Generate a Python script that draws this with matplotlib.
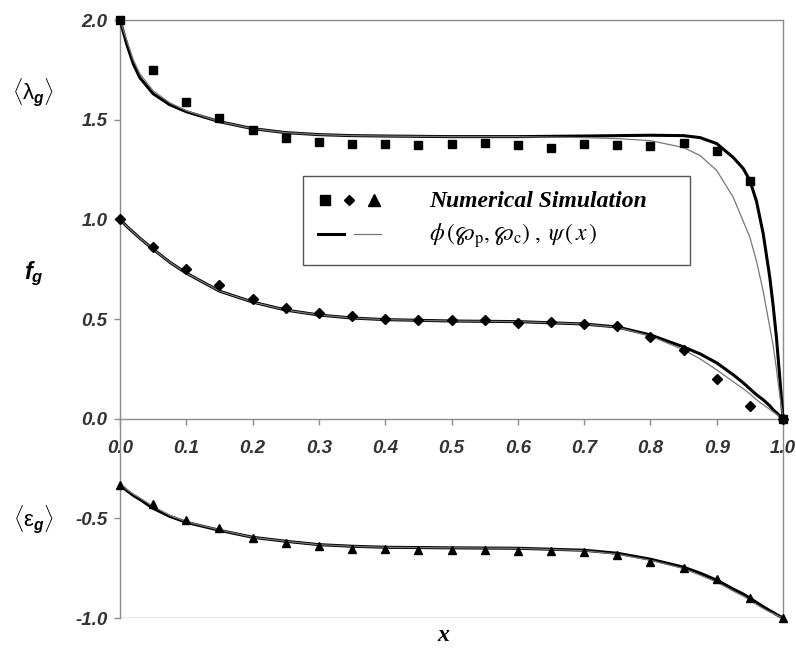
import matplotlib
matplotlib.use('Agg')
import matplotlib.pyplot as plt
from matplotlib.lines import Line2D
from matplotlib.legend_handler import HandlerTuple

plt.rcParams['axes.unicode_minus'] = False
plt.rcParams['mathtext.fontset'] = 'custom'
plt.rcParams['mathtext.rm'] = 'Liberation Sans'
plt.rcParams['mathtext.it'] = 'Liberation Sans:italic:bold'
plt.rcParams['mathtext.bf'] = 'Liberation Sans:bold'

# simulation points
x_sim = [0.0, 0.05, 0.1, 0.15, 0.2, 0.25, 0.3, 0.35, 0.4, 0.45, 0.5,
         0.55, 0.6, 0.65, 0.7, 0.75, 0.8, 0.85, 0.9, 0.95, 1.0]
lam_sim = [2.0, 1.75, 1.59, 1.51, 1.45, 1.41, 1.39, 1.38, 1.38, 1.375, 1.38,
           1.385, 1.375, 1.357, 1.378, 1.375, 1.37, 1.383, 1.343, 1.19, 0.0]
f_sim = [1.0, 0.86, 0.75, 0.67, 0.6, 0.555, 0.53, 0.515, 0.5, 0.495, 0.497,
         0.497, 0.48, 0.485, 0.475, 0.465, 0.41, 0.345, 0.2, 0.065, 0.0]
eps_sim = [-0.333, -0.43, -0.51, -0.55, -0.6, -0.625, -0.64, -0.655, -0.655, -0.66, -0.66,
           -0.66, -0.665, -0.665, -0.67, -0.685, -0.72, -0.75, -0.805, -0.9, -1.0]

# model curves: thick = phi(p_p, p_c), thin = psi(x)
x_crv = [0.0, 0.01, 0.02, 0.03, 0.05, 0.075, 0.1, 0.15, 0.2, 0.25, 0.3, 0.35, 0.4,
         0.5, 0.6, 0.7, 0.75, 0.8, 0.85, 0.875, 0.9, 0.925, 0.94, 0.95, 0.96, 0.97,
         0.98, 0.985, 0.99, 0.995, 1.0]
lam_phi = [2.0, 1.88, 1.78, 1.71, 1.63, 1.575, 1.54, 1.49, 1.455, 1.435, 1.425, 1.42, 1.418,
           1.415, 1.415, 1.418, 1.42, 1.422, 1.42, 1.41, 1.38, 1.31, 1.255, 1.195, 1.09, 0.93,
           0.71, 0.57, 0.41, 0.21, 0.0]
lam_psi = [2.0, 1.90, 1.80, 1.73, 1.645, 1.585, 1.545, 1.49, 1.455, 1.435, 1.425, 1.42, 1.418,
           1.415, 1.415, 1.41, 1.405, 1.395, 1.36, 1.32, 1.245, 1.11, 0.99, 0.91, 0.79, 0.64,
           0.46, 0.37, 0.25, 0.12, 0.0]
f_phi = [1.0, 0.965, 0.935, 0.905, 0.85, 0.785, 0.73, 0.64, 0.585, 0.545, 0.52, 0.505, 0.497,
         0.49, 0.487, 0.475, 0.46, 0.42, 0.36, 0.325, 0.28, 0.22, 0.18, 0.15, 0.12, 0.095,
         0.065, 0.045, 0.03, 0.015, 0.0]
f_psi = [1.0, 0.965, 0.935, 0.905, 0.85, 0.785, 0.73, 0.64, 0.585, 0.545, 0.52, 0.505, 0.497,
         0.49, 0.487, 0.475, 0.458, 0.415, 0.345, 0.30, 0.245, 0.185, 0.15, 0.125, 0.095, 0.07,
         0.047, 0.035, 0.022, 0.01, 0.0]
eps_phi = [-0.333, -0.36, -0.385, -0.405, -0.45, -0.49, -0.52, -0.56, -0.595, -0.615, -0.632, -0.64, -0.645,
           -0.648, -0.65, -0.66, -0.675, -0.705, -0.745, -0.775, -0.81, -0.855, -0.88, -0.9, -0.922, -0.943,
           -0.963, -0.972, -0.982, -0.991, -1.0]
eps_psi = [-0.333, -0.355, -0.378, -0.398, -0.44, -0.485, -0.517, -0.558, -0.595, -0.615, -0.632, -0.64, -0.645,
           -0.648, -0.65, -0.662, -0.68, -0.71, -0.752, -0.785, -0.82, -0.865, -0.89, -0.91, -0.932, -0.952,
           -0.97, -0.977, -0.985, -0.993, -1.0]

x_ticks = [0.0, 0.1, 0.2, 0.3, 0.4, 0.5, 0.6, 0.7, 0.8, 0.9, 1.0]
y_ticks = [-1.0, -0.5, 0.0, 0.5, 1.0, 1.5, 2.0]

grey = '#8c8c8c'
tickfont = dict(family='Liberation Sans', weight='bold', style='italic', size=13.5)

fig = plt.figure(figsize=(7.96, 6.5), dpi=100)
ax = fig.add_axes([0.1508, 0.0492, 0.8329, 0.92])

for yt, yp in [(lam_psi, lam_phi), (f_psi, f_phi), (eps_psi, eps_phi)]:
    ax.plot(x_crv, yp, color='black', lw=2.2, zorder=3, clip_on=False)
    ax.plot(x_crv, yt, color='#777777', lw=0.9, zorder=4, clip_on=False)

ax.plot(x_sim, lam_sim, 's', color='black', ms=5.6, ls='none', zorder=5, clip_on=False)
ax.plot(x_sim, f_sim, 'D', color='black', ms=4.6, ls='none', zorder=5, clip_on=False)
ax.plot(x_sim, eps_sim, '^', color='black', ms=6.2, ls='none', zorder=5, clip_on=False)

ax.spines['bottom'].set_position(('data', 0))
for s in ax.spines.values():
    s.set_color(grey)
    s.set_linewidth(1.0)
ax.axhline(-1, color=grey, lw=1.0, zorder=1)

ax.set_xlim(0, 1)
ax.set_ylim(-1, 2)
ax.set_xticks(x_ticks)
ax.set_yticks(y_ticks)
ax.set_xticklabels(['%.1f' % v for v in x_ticks], fontdict=tickfont, color='#333333')
ax.set_yticklabels(['%.1f' % v for v in y_ticks], fontdict=tickfont, color='#333333')
ax.tick_params(axis='x', direction='out', length=4, width=1, color=grey, pad=11)
ax.tick_params(axis='y', direction='out', length=4, width=1, color=grey, pad=5)

# legend
thick = Line2D([], [], color='black', lw=2.2)
thin = Line2D([], [], color='#777777', lw=0.9)
sq_h = Line2D([], [], marker='s', color='black', ms=7, ls='none')
di_h = Line2D([], [], marker='D', color='black', ms=5.5, ls='none')
tr_h = Line2D([], [], marker='^', color='black', ms=8, ls='none')
leg = ax.legend([(sq_h, di_h, tr_h), (thick, thin)],
                ['Numerical Simulation',
                 r'$\phi\,(\wp_{\mathrm{p}},\wp_{\mathrm{c}})\;,\;\psi\,(\,x\,)$'],
                handler_map={tuple: HandlerTuple(ndivide=None, pad=0.5)},
                loc='lower left', bbox_to_anchor=(0.276, 0.771, 0.584, 0.436),
                bbox_transform=ax.transData, mode='expand',
                fontsize=14.5, handlelength=3.1, handletextpad=2.4,
                borderpad=0.75, labelspacing=0.45, borderaxespad=0,
                fancybox=False, framealpha=1, edgecolor='#555555')
leg.get_frame().set_linewidth(1.0)
t1, t2 = leg.get_texts()
t1.set_fontfamily('Liberation Serif')
t1.set_fontweight('bold')
t1.set_fontstyle('italic')
t1.set_fontsize(17)
t2.set_math_fontfamily('stix')
t2.set_fontsize(17)

# side labels
fig.text(0.042, 0.857, r'$\langle\mathrm{\lambda}_g\rangle$', fontsize=16, ha='center', va='center')
fig.text(0.042, 0.579, r'$f_g$', fontsize=17, ha='center', va='center')
fig.text(0.042, 0.200, r'$\langle\mathrm{\varepsilon}_g\rangle$', fontsize=16, ha='center', va='center')
fig.text(0.557, 0.022, 'x', fontsize=17, ha='center', va='center',
         family='Liberation Serif', weight='bold', style='italic')

plt.savefig('out.png', dpi=100)
